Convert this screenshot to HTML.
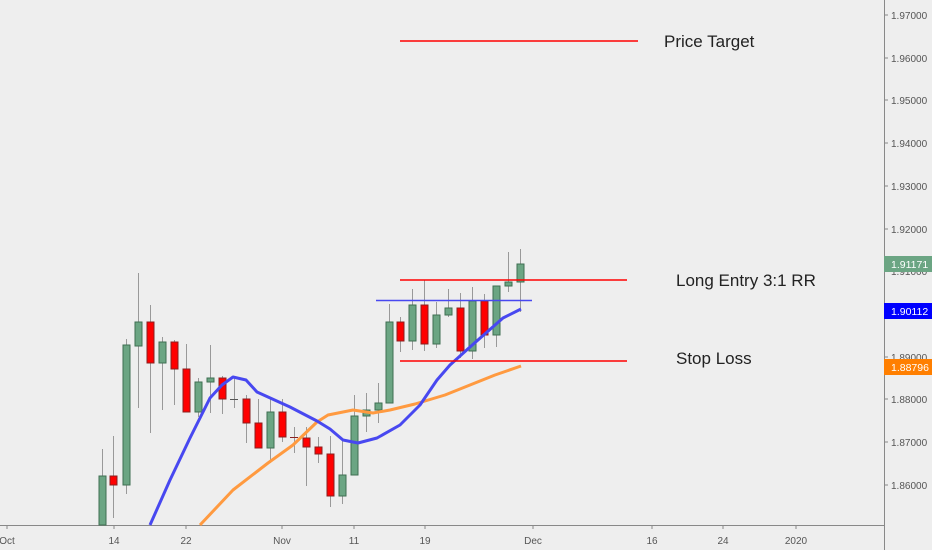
<!DOCTYPE html>
<html><head><style>
html,body{margin:0;padding:0;background:#eeeeee;}
svg{display:block;font-family:"Liberation Sans",Arial,sans-serif;}
</style></head><body>
<svg width="932" height="550" viewBox="0 0 932 550" xmlns="http://www.w3.org/2000/svg">
<rect width="932" height="550" fill="#eeeeee"/>
<line x1="884.5" y1="0" x2="884.5" y2="550" stroke="#888" stroke-width="1"/>
<line x1="0" y1="525.5" x2="884" y2="525.5" stroke="#888" stroke-width="1"/>
<g stroke="#888">
<line x1="884" x2="888" y1="15" y2="15"/><line x1="884" x2="888" y1="58" y2="58"/><line x1="884" x2="888" y1="100" y2="100"/><line x1="884" x2="888" y1="143" y2="143"/><line x1="884" x2="888" y1="186" y2="186"/><line x1="884" x2="888" y1="229" y2="229"/><line x1="884" x2="888" y1="271" y2="271"/><line x1="884" x2="888" y1="314" y2="314"/><line x1="884" x2="888" y1="357" y2="357"/><line x1="884" x2="888" y1="399" y2="399"/><line x1="884" x2="888" y1="442" y2="442"/><line x1="884" x2="888" y1="485" y2="485"/>
<line x1="7" x2="7" y1="525" y2="529"/><line x1="114" x2="114" y1="525" y2="529"/><line x1="186" x2="186" y1="525" y2="529"/><line x1="282" x2="282" y1="525" y2="529"/><line x1="354" x2="354" y1="525" y2="529"/><line x1="425" x2="425" y1="525" y2="529"/><line x1="533" x2="533" y1="525" y2="529"/><line x1="652" x2="652" y1="525" y2="529"/><line x1="723" x2="723" y1="525" y2="529"/><line x1="796" x2="796" y1="525" y2="529"/>
</g>
<g font-size="10" fill="#555">
<text x="891" y="19">1.97000</text><text x="891" y="62">1.96000</text><text x="891" y="104">1.95000</text><text x="891" y="147">1.94000</text><text x="891" y="190">1.93000</text><text x="891" y="233">1.92000</text><text x="891" y="275">1.91000</text><text x="891" y="318">1.90000</text><text x="891" y="361">1.89000</text><text x="891" y="403">1.88000</text><text x="891" y="446">1.87000</text><text x="891" y="489">1.86000</text>
</g>
<g font-size="10" fill="#555" text-anchor="middle">
<text x="7" y="544">Oct</text><text x="114" y="544">14</text><text x="186" y="544">22</text><text x="282" y="544">Nov</text><text x="354" y="544">11</text><text x="425" y="544">19</text><text x="533" y="544">Dec</text><text x="652" y="544">16</text><text x="723" y="544">24</text><text x="796" y="544">2020</text>
</g>
<rect x="884" y="256" width="48" height="16" fill="#6ba583"/><text x="891" y="268" font-size="10.5" fill="#fff">1.91171</text>
<rect x="884" y="303" width="48" height="16" fill="#0000ff"/><text x="891" y="315" font-size="10.5" fill="#fff">1.90112</text>
<rect x="884" y="359" width="48" height="16" fill="#ff7f00"/><text x="891" y="371" font-size="10.5" fill="#fff">1.88796</text>
<g stroke-width="1">
<g stroke="#999">
<line x1="102.5" x2="102.5" y1="449" y2="525"/>
<line x1="113.5" x2="113.5" y1="436" y2="518"/>
<line x1="126.5" x2="126.5" y1="339" y2="494"/>
<line x1="138.5" x2="138.5" y1="273" y2="408"/>
<line x1="150.5" x2="150.5" y1="305" y2="433"/>
<line x1="162.5" x2="162.5" y1="337" y2="410"/>
<line x1="174.5" x2="174.5" y1="340" y2="405"/>
<line x1="186.5" x2="186.5" y1="344" y2="412"/>
<line x1="198.5" x2="198.5" y1="378" y2="417"/>
<line x1="210.5" x2="210.5" y1="345" y2="413"/>
<line x1="222.5" x2="222.5" y1="376" y2="414"/>
<line x1="234.5" x2="234.5" y1="376" y2="408"/>
<line x1="246.5" x2="246.5" y1="395" y2="443"/>
<line x1="258.5" x2="258.5" y1="399" y2="448"/>
<line x1="270.5" x2="270.5" y1="397" y2="463"/>
<line x1="282.5" x2="282.5" y1="399" y2="442"/>
<line x1="294.5" x2="294.5" y1="427" y2="453"/>
<line x1="306.5" x2="306.5" y1="427" y2="486"/>
<line x1="318.5" x2="318.5" y1="437" y2="463"/>
<line x1="330.5" x2="330.5" y1="436" y2="507"/>
<line x1="342.5" x2="342.5" y1="440" y2="504"/>
<line x1="354.5" x2="354.5" y1="395" y2="475"/>
<line x1="366.5" x2="366.5" y1="393" y2="432"/>
<line x1="378.5" x2="378.5" y1="383" y2="423"/>
<line x1="389.5" x2="389.5" y1="304" y2="403"/>
<line x1="400.5" x2="400.5" y1="317" y2="352"/>
<line x1="412.5" x2="412.5" y1="289" y2="350"/>
<line x1="424.5" x2="424.5" y1="280" y2="351"/>
<line x1="436.5" x2="436.5" y1="302" y2="348"/>
<line x1="448.5" x2="448.5" y1="289" y2="317"/>
<line x1="460.5" x2="460.5" y1="293" y2="358"/>
<line x1="472.5" x2="472.5" y1="287" y2="359"/>
<line x1="484.5" x2="484.5" y1="294" y2="348"/>
<line x1="496.5" x2="496.5" y1="286" y2="347"/>
<line x1="508.5" x2="508.5" y1="252" y2="292"/>
<line x1="520.5" x2="520.5" y1="249" y2="312"/>
</g>
<g fill="#6ba583" stroke="#3f6e52">
<rect x="99" y="476" width="7" height="49"/>
<rect x="123" y="345" width="7" height="140"/>
<rect x="135" y="322" width="7" height="24"/>
<rect x="159" y="342" width="7" height="21"/>
<rect x="195" y="382" width="7" height="30"/>
<rect x="207" y="378" width="7" height="4"/>
<rect x="267" y="412" width="7" height="36"/>
<rect x="339" y="475" width="7" height="21"/>
<rect x="351" y="416" width="7" height="59"/>
<rect x="363" y="410" width="7" height="6"/>
<rect x="375" y="403" width="7" height="7"/>
<rect x="386" y="322" width="7" height="81"/>
<rect x="409" y="305" width="7" height="36"/>
<rect x="433" y="315" width="7" height="29"/>
<rect x="445" y="308" width="7" height="7"/>
<rect x="469" y="301" width="7" height="50"/>
<rect x="493" y="286" width="7" height="49"/>
<rect x="505" y="282" width="7" height="4"/>
<rect x="517" y="264" width="7" height="18"/>
</g>
<g fill="#ff0000" stroke="#8a2020">
<rect x="110" y="476" width="7" height="9"/>
<rect x="147" y="322" width="7" height="41"/>
<rect x="171" y="342" width="7" height="27"/>
<rect x="183" y="369" width="7" height="43"/>
<rect x="219" y="378" width="7" height="21"/>
<rect x="243" y="399" width="7" height="24"/>
<rect x="255" y="423" width="7" height="25"/>
<rect x="279" y="412" width="7" height="25"/>
<rect x="303" y="438" width="7" height="9"/>
<rect x="315" y="447" width="7" height="7"/>
<rect x="327" y="454" width="7" height="42"/>
<rect x="397" y="322" width="7" height="19"/>
<rect x="421" y="305" width="7" height="39"/>
<rect x="457" y="308" width="7" height="43"/>
<rect x="481" y="301" width="7" height="34"/>
</g>
<line x1="230" x2="238" y1="399.5" y2="399.5" stroke="#555"/>
<line x1="290" x2="298" y1="437.5" y2="437.5" stroke="#8a2020"/>
</g>
<polyline fill="none" stroke="#ff9a40" stroke-width="3" stroke-linejoin="round" points="200,525 233,490 268,463 293,445 317,422 328,415 353,410 373,413 390,410 415,404 445,395 470,385 495,375 521,366"/>
<polyline fill="none" stroke="#4848f0" stroke-width="3" stroke-linejoin="round" points="150,525 170,480 190,438 210,398 222,385 233,377 246,380 257,392 290,407 317,421 330,429 343,440 358,443 377,438 400,425 420,405 437,380 450,365 470,347 503,318 521,309"/>
<line x1="400" x2="638" y1="41" y2="41" stroke="#ff0000" stroke-width="1.5"/>
<line x1="400" x2="627" y1="280" y2="280" stroke="#ff0000" stroke-width="1.5"/>
<line x1="376" x2="532" y1="300.5" y2="300.5" stroke="#4848f0" stroke-width="1.5"/>
<line x1="400" x2="627" y1="361" y2="361" stroke="#ff0000" stroke-width="1.5"/>
<g font-size="17" fill="#222">
<text x="664" y="47">Price Target</text>
<text x="676" y="286">Long Entry 3:1 RR</text>
<text x="676" y="364">Stop Loss</text>
</g>
</svg>
</body></html>
